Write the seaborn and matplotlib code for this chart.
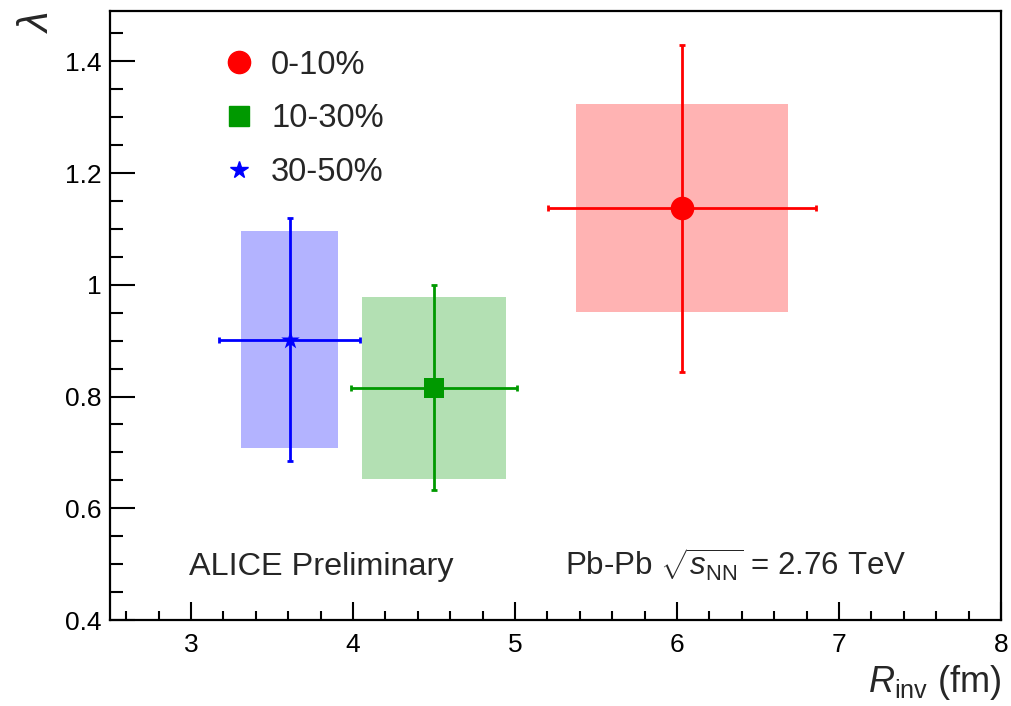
import numpy as np
import pandas as pd
import matplotlib
matplotlib.use("Agg")
import matplotlib.pyplot as plt
import seaborn as sns
from matplotlib.lines import Line2D
from matplotlib.ticker import MultipleLocator

# ---- data ----
centrality = ["0-10%", "10-30%", "30-50%"]
r_inv = [6.03, 4.50, 3.61]
lam = [1.137, 0.816, 0.902]
r_stat = [0.825, 0.515, 0.436]
lam_stat = [0.293, 0.184, 0.217]
r_sys = [0.653, 0.447, 0.300]
lam_sys = [0.186, 0.163, 0.195]

marker_colors = ["#ff0000", "#009900", "#0000ff"]
box_colors = ["#ffb3b3", "#b3e0b3", "#b3b3ff"]
markers = ["o", "s", "*"]
marker_sizes = [17, 15, 14]

df = pd.DataFrame({"centrality": centrality, "R": r_inv, "lam": lam})

sns.set_theme(style="white")
plt.rcParams["font.family"] = ["Liberation Sans", "DejaVu Sans"]
plt.rcParams["mathtext.fontset"] = "custom"
plt.rcParams["mathtext.rm"] = "Liberation Sans"
plt.rcParams["mathtext.it"] = "Liberation Sans:italic"

fig = plt.figure(figsize=(10.11, 7.06), dpi=100)
ax = fig.add_axes([110 / 1011, 1 - 620 / 706, (1001 - 110) / 1011, (620 - 11) / 706])

# systematic boxes
for i in range(len(centrality)):
    ax.bar(r_inv[i], 2 * lam_sys[i], width=2 * r_sys[i], bottom=lam[i] - lam_sys[i],
           color=box_colors[i], edgecolor="none", zorder=1)

# statistical error bars
for i in range(len(centrality)):
    ax.errorbar(r_inv[i], lam[i], xerr=r_stat[i], yerr=lam_stat[i], fmt="none",
                ecolor=marker_colors[i], elinewidth=2.0, capsize=2.5, capthick=2, zorder=2)

# markers via seaborn
for i in range(len(centrality)):
    sub = df.iloc[[i]]
    sns.scatterplot(data=sub, x="R", y="lam", marker=markers[i], s=marker_sizes[i] ** 2,
                    color=marker_colors[i], edgecolor=marker_colors[i], linewidth=0,
                    ax=ax, zorder=3, legend=False)

ax.set_xlim(2.5, 8)
ax.set_ylim(0.4, 1.49)
ax.xaxis.set_minor_locator(MultipleLocator(0.2))
ax.yaxis.set_minor_locator(MultipleLocator(0.05))
ax.set_xticks([3, 4, 5, 6, 7, 8])
ax.set_xticklabels(["3", "4", "5", "6", "7", "8"])
ax.set_yticks([0.4, 0.6, 0.8, 1.0, 1.2, 1.4])
ax.set_yticklabels(["0.4", "0.6", "0.8", "1", "1.2", "1.4"])
ax.tick_params(axis="both", which="both", direction="in", width=1.5, color="black",
               top=False, right=False, left=True, bottom=True)
ax.tick_params(axis="both", which="major", labelsize=19, labelcolor="black")
ax.tick_params(axis="y", which="major", length=18, pad=6)
ax.tick_params(axis="y", which="minor", length=9.5)
ax.tick_params(axis="x", which="major", length=13, pad=9)
ax.tick_params(axis="x", which="minor", length=6.5)
for s in ax.spines.values():
    s.set_color("black")
    s.set_linewidth(1.6)
ax.grid(False)
ax.set_xlabel("")
ax.set_ylabel("")

# axis titles
fig.text(1001 / 1011, 1 - 683 / 706, r"$\mathit{R}_{\rm inv}$ (fm)", ha="right", va="center",
         fontsize=26)
fig.text(37 / 1011, 1 - 22 / 706, r"$\lambda$", ha="center", va="center", fontsize=30,
         rotation=90)

# annotations
ax.text(2.99, 0.48, "ALICE Preliminary", fontsize=23.3, ha="left", va="baseline")
ax.text(5.31, 0.48, r"Pb-Pb $\sqrt{s_{\rm NN}}$ = 2.76 TeV", fontsize=22.5, ha="left",
        va="baseline")

# legend
handles = [Line2D([0], [0], marker=markers[i], color="none", markerfacecolor=marker_colors[i],
                  markeredgecolor=marker_colors[i], markersize=[16, 14, 13][i], linestyle="none")
           for i in range(len(centrality))]
ax.legend(handles, centrality, loc="upper left", bbox_to_anchor=(0.112, 0.958),
          frameon=False, fontsize=23.5, labelspacing=0.7, handlelength=1.0,
          handletextpad=0.48, borderaxespad=0)

fig.savefig("out.png", dpi=100)
